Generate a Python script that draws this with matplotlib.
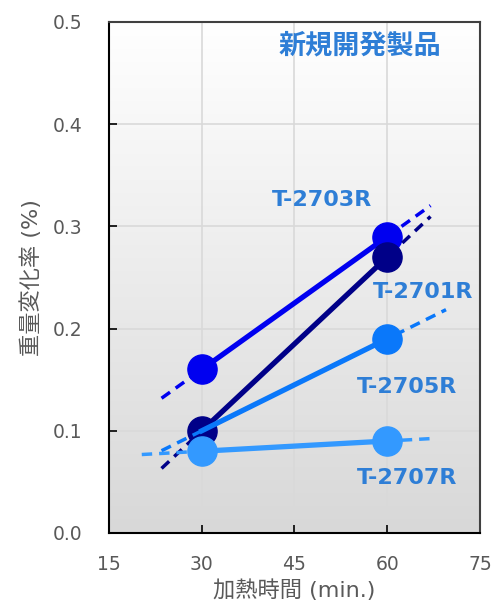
import numpy as np
import matplotlib.pyplot as plt

plt.rcParams['font.family'] = ['DejaVu Sans', 'Noto Sans CJK JP']

# heating time (min.) and weight change (%)
times = [30, 60]
series = ["T-2703R", "T-2701R", "T-2705R", "T-2707R"]
values = {
    "T-2703R": [0.16, 0.29],
    "T-2701R": [0.10, 0.27],
    "T-2705R": [0.10, 0.19],
    "T-2707R": [0.08, 0.09],
}
# x range of the dashed trend lines
trend_x = {
    "T-2703R": [23.5, 67],
    "T-2701R": [23.5, 67],
    "T-2705R": [23.5, 69.5],
    "T-2707R": [20.3, 67],
}
colors = {
    "T-2703R": "#0000F0",
    "T-2701R": "#000088",
    "T-2705R": "#0A78FA",
    "T-2707R": "#3399FF",
}
# label positions (data coords)
label_pos = {
    "T-2703R": (49.5, 0.326),
    "T-2701R": (65.8, 0.236),
    "T-2705R": (63.2, 0.143),
    "T-2707R": (63.2, 0.054),
}
label_color = "#2E7ED6"

fig = plt.figure(figsize=(4.97, 6.06), dpi=100)
ax = fig.add_axes([0.2193, 0.1205, 0.7465, 0.8432])

# vertical gradient background
grad = np.linspace(0, 1, 256).reshape(-1, 1)
ax.imshow(grad, extent=[0, 1, 0, 1], transform=ax.transAxes, aspect='auto',
          cmap=plt.matplotlib.colors.LinearSegmentedColormap.from_list(
              'bg', ['#D8D8D8', '#FFFFFF']), origin='lower', zorder=0)

ax.set_xlim(15, 75)
ax.set_ylim(0, 0.5)
ax.set_xticks([15, 30, 45, 60, 75])
ax.set_yticks(np.arange(0, 0.51, 0.1))
ax.set_yticklabels([f"{v:.1f}" for v in np.arange(0, 0.51, 0.1)])
ax.grid(True, color='#D9D9D9', linewidth=1.2, zorder=1)
ax.set_axisbelow(True)

for name in series:
    x = np.array(times)
    y = np.array(values[name])
    k, b = np.polyfit(x, y, 1)
    tx = np.array(trend_x[name])
    ax.plot(tx, k * tx + b, linestyle=(0, (3, 2)), color=colors[name],
            linewidth=2.5, zorder=3)
    mk = [1] if name == "T-2705R" else [0, 1]
    ax.plot(x, y, color=colors[name], linewidth=3.8, marker='o',
            markersize=21, markevery=mk, zorder=3)
    lx, ly = label_pos[name]
    ax.text(lx, ly, name, color=label_color, fontsize=16,
            fontweight='bold', ha='center', va='center', zorder=5)

ax.text(55.6, 0.477, "新規開発製品", color=label_color, fontsize=19.5,
        fontweight='bold', ha='center', va='center', zorder=5,
        family=['Noto Sans CJK JP'])

for s in ax.spines.values():
    s.set_color('#404040')
    s.set_linewidth(1.5)
ax.spines['left'].set_color('#000000')
ax.spines['bottom'].set_color('#000000')

ax.tick_params(direction='in', length=6, width=1.2, colors='#000000',
               labelcolor='#595959', labelsize=13.5, pad=19)
ax.tick_params(axis='x', pad=16)

ax.set_xlabel("加熱時間 (min.)", fontsize=16, color='#595959', labelpad=4)
ax.set_ylabel("重量変化率 (%)", fontsize=16, color='#595959', labelpad=8)

fig.savefig("out.png", dpi=100)
